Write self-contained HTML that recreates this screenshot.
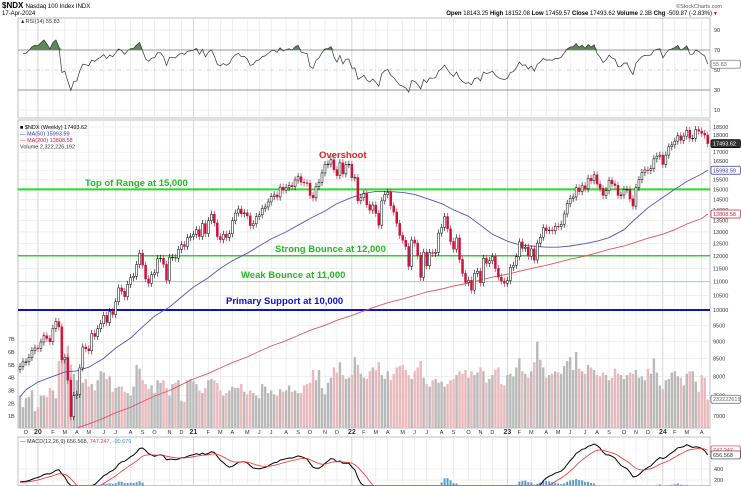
<!DOCTYPE html>
<html><head><meta charset="utf-8"><style>
html,body{margin:0;padding:0;background:#fff;width:741px;height:486px;overflow:hidden;}
svg{display:block;font-family:"Liberation Sans",sans-serif;overflow:hidden;}
</style></head><body>
<svg id="chart" width="741" height="486" viewBox="0 0 741 486" xmlns="http://www.w3.org/2000/svg">
<text x="2" y="8" font-size="8" font-weight="bold">$NDX <tspan font-size="6" font-weight="normal">Nasdaq 100 Index  INDX</tspan></text>
<text x="2" y="15" font-size="6">17-Apr-2024</text>
<text x="722" y="8" font-size="5.5" text-anchor="end" fill="#555">©StockCharts.com</text>
<text x="712" y="15" font-size="6" text-anchor="end"><tspan font-weight="bold">Open</tspan> 18143.25 <tspan font-weight="bold">High</tspan> 18152.08 <tspan font-weight="bold">Low</tspan> 17459.57 <tspan font-weight="bold">Close</tspan> 17493.62 <tspan font-weight="bold">Volume</tspan> 2.3B <tspan font-weight="bold">Chg</tspan> -509.87 (-2.83%)</text>
<text x="713" y="15" font-size="5" fill="#d00">▼</text>
<g id="g"></g>
</svg>
<script>
const closes=[8270,8400,8400,8530,8720,8800,
8790,8980,9170,9090,8990,9400,9620,9450,8460,8530,7900,6990,7500,7530,8230,8830,8780,8720,9240,9150,9390,9550,9820,9590,9950,9850,10280,10770,10650,10460,10900,11150,11200,11650,12100,11630,11100,10940,11260,11330,11880,11900,11660,11050,11940,11940,11900,12260,12460,12380,12750,12800,
12890,13100,12800,13370,12930,13500,13800,13400,12800,12670,12900,12760,12920,13500,13850,14040,13820,13860,13720,13280,13360,13690,13770,14070,14140,14380,14640,14720,14620,15110,14960,15100,15200,15140,15480,15650,15370,15330,15310,14700,14580,15150,15360,15850,16300,16330,16570,16030,15710,16400,15800,16300,16320,
15600,15610,14440,14590,14790,14250,13990,14230,13840,13300,14430,14740,14860,14200,13900,13380,12850,12640,12380,11580,12650,12520,12010,11160,12140,11600,12130,12100,12140,12950,13200,13690,13140,12590,12270,12740,11850,11310,10970,11050,10690,11310,11390,10960,11900,11700,11800,11970,11500,11170,11020,10940,
11040,11540,11620,11960,12570,12300,12350,11980,12280,11830,12520,12770,13180,13060,13080,13050,13250,13240,13340,13810,14300,14550,14620,15080,14890,15180,15030,15570,15440,15750,15270,15050,14700,14940,15460,15280,15200,14700,14720,14990,15000,14530,14180,15100,15500,15870,16010,15990,16080,16620,16770,16830,
16310,16830,17310,17420,17640,17960,17690,17940,18300,17810,17810,18340,18250,18110,18000,17494];
const volumes=[2.6,1.7,2.4,2.5,3.0,1.4,
1.7,2.6,2.6,2.5,3.2,3.0,2.4,5.3,6.0,5.5,6.5,5.0,4.3,3.8,4.0,3.6,3.9,3.3,3.5,3.0,3.8,4.5,4.4,3.9,4.1,2.9,3.2,3.3,3.3,2.9,2.8,2.6,3.3,5.0,4.7,3.8,3.5,3.1,3.4,2.8,3.8,3.6,3.8,3.2,2.6,3.5,3.6,3.8,2.2,2.1,3.8,3.9,
3.7,3.5,3.0,2.8,3.2,3.8,3.9,3.8,3.6,3.0,2.6,2.8,3.0,3.3,3.2,3.2,3.5,2.9,2.7,3.0,2.8,2.6,2.4,3.5,3.3,2.8,3.0,2.7,2.6,3.1,2.9,3.0,3.4,2.9,3.0,2.8,2.8,3.4,3.5,3.6,4.6,3.8,4.6,3.2,2.7,3.6,4.0,4.8,4.4,5.2,4.2,3.9,4.0,
4.2,5.6,5.0,4.3,4.0,3.9,4.5,4.8,4.6,5.2,4.2,3.9,4.5,3.8,4.3,4.8,4.9,5.0,4.6,4.2,3.9,4.5,4.8,5.3,4.0,3.5,3.3,3.8,3.9,3.6,3.7,3.3,3.5,3.8,3.9,4.2,4.5,4.3,4.6,4.0,4.5,4.2,4.4,4.8,4.5,3.6,3.9,4.2,4.6,4.8,3.5,3.4,
4.2,4.3,4.1,4.8,5.5,4.5,4.3,4.0,4.5,5.2,6.8,5.4,4.8,4.0,4.2,4.3,4.5,4.4,4.3,4.9,5.3,5.6,4.6,6.0,4.7,4.5,4.3,5.0,4.8,4.6,4.2,4.1,4.4,4.2,3.8,4.0,4.7,4.3,4.2,3.9,4.2,4.4,4.3,4.6,4.0,4.1,3.8,4.7,4.3,5.5,4.4,3.4,
3.1,3.8,3.9,4.4,4.5,4.1,4.0,3.4,4.3,4.5,4.5,3.7,2.9,4.2,4.0,2.3];
const ma50=[7470,7650,7850,8000,8120,8150,8250,8500,8800,9100,9450,9800,10100,10450,10800,11150,11500,11800,12100,12400,12700,13000,13300,13600,13950,14300,14600,14800,14900,14900,14850,14750,14550,14300,14000,13700,13300,12900,12600,12450,12400,12350,12350,12400,12500,12600,12750,13100,13600,14100,14600,15000,15400,15800,15994];
const ma200=[null,null,null,null,null,6700,6820,6950,7080,7210,7350,7490,7630,7780,7930,8080,8230,8380,8540,8700,8860,9020,9180,9340,9500,9660,9820,9970,10110,10250,10380,10500,10620,10730,10840,10950,11060,11170,11280,11390,11500,11620,11740,11860,11990,12120,12260,12400,12560,12730,12900,13100,13350,13600,13809];
const priceTicks=[18500,18000,17000,16500,16000,15500,15000,14500,14000,13500,13000,12500,12000,11500,11000,10500,10000,9500,9000,8500,8000,7500,7000];
const volTicks=[1,2,3,4,5,6,7];
const rsiTicks=[90,70,50,30,10];
const macdTicks=[400,200];
const levels=[15000,12000,11000,10000];
const levelLabels=["Top of Range at 15,000","Strong Bounce at 12,000","Weak Bounce at 11,000","Primary Support at 10,000"];

const NS="http://www.w3.org/2000/svg";
const G=document.getElementById('g');
function mk(tag,attrs,parent){const e=document.createElementNS(NS,tag);for(const k in attrs)e.setAttribute(k,attrs[k]);(parent||G).appendChild(e);return e;}
const X0=20,DX=2.99,PL=18,PR=710;
const xs=i=>X0+i*DX;
const yP=p=>310-(Math.log(p)-Math.log(10000))/0.6151*183;
const yV=v=>429-v*12.83;
const yR=r=>110-(r-10);
const yMraw=m=>491-m*0.055;
const yM=m=>Math.min(485.5,Math.max(437,yMraw(m)));
const N=closes.length;
const start=new Date(2019,10,22);
const dates=closes.map((c,i)=>new Date(start.getTime()+i*7*864e5));
const monthIdx=[0];
for(let i=1;i<N;i++){if(dates[i].getMonth()!==dates[i-1].getMonth())monthIdx.push(i);}
const mNames="JFMAMJJASOND";

const panels=[[18,118,'rsi-panel'],[120,428,'price-panel'],[437,485.5,'macd-panel']];
panels.forEach(p=>{const r=mk('rect',{x:PL,y:p[0],width:PR-PL,height:p[1]-p[0],fill:'#fff',stroke:'#999','stroke-width':0.6});

});
monthIdx.forEach((i,k)=>{if(i===0)return;
 panels.forEach(p=>{const l=mk('line',{x1:xs(i),x2:xs(i),y1:p[0],y2:p[1],stroke:dates[i].getMonth()===0?'#bbb':'#e3e3e3','stroke-width':0.6});
 
 });
 const isY=dates[i].getMonth()===0;
 const t=mk('text',{x:xs(i),y:434,'font-size':isY?7:5.5,'font-weight':isY?'bold':'normal','text-anchor':'middle',fill:'#333'});
 t.textContent=isY?String(dates[i].getFullYear()).slice(2):mNames[dates[i].getMonth()];
 
 
});
rsiTicks.forEach(v=>{const l=mk('line',{x1:PL,x2:PR,y1:yR(v),y2:yR(v),stroke:(v===30||v===70)?'#999':(v===50?'#aaa':'#e3e3e3'),'stroke-width':(v===30||v===70)?1:0.6,'stroke-dasharray':v===50?'4,2,1,2':'none'});
 
 
 const t=mk('text',{x:714,y:yR(v)+2,'font-size':5.5,fill:'#333'});t.textContent=v;
 
 });
priceTicks.forEach(v=>{const l=mk('line',{x1:PL,x2:PR,y1:yP(v),y2:yP(v),stroke:'#e6e6e6','stroke-width':0.6});
 
 
 const t=mk('text',{x:713,y:yP(v)+2,'font-size':5.5,fill:'#333'});t.textContent=v;
 
 });
volTicks.forEach(v=>{const t=mk('text',{x:8,y:yV(v)+2,'font-size':5.5,fill:'#333'});t.textContent=v+'B';
 
 });
macdTicks.forEach(v=>{const l=mk('line',{x1:PL,x2:PR,y1:yM(v),y2:yM(v),stroke:'#e6e6e6','stroke-width':0.6});
 
 
 const t=mk('text',{x:714,y:yM(v)+2,'font-size':5.5,fill:'#333'});t.textContent=v;
 
 });

closes.forEach((c,i)=>{const up=i===0||c>=closes[i-1];
 const r=mk('rect',{x:xs(i)-1.2,y:yV(volumes[i]),width:2.4,height:428-yV(volumes[i]),fill:up?'#b9b9b9':'#eab8bd'});
 
 });

const defs=mk('defs',{});
const cp=mk('clipPath',{id:'pc'},defs);mk('rect',{x:PL,y:120,width:PR-PL,height:308},cp);
const cm=mk('clipPath',{id:'mc'},defs);mk('rect',{x:PL,y:437,width:PR-PL,height:48.5},cm);
const PG=mk('g',{'clip-path':'url(#pc)'});

const lvlColors=['#22dd22','#33cc33','#88e888','#1010cc'],lvlW=[2,1.5,1,2];
levels.forEach((v,k)=>{const l=mk('line',{x1:PL,x2:PR,y1:yP(v),y2:yP(v),stroke:lvlColors[k],'stroke-width':lvlW[k]},PG);
 
 });
const lblPos=[[85,186],[275,252],[241,278],[226,304]];
levelLabels.forEach((s,k)=>{const t=mk('text',{x:lblPos[k][0],y:lblPos[k][1],'font-size':9.5,'font-weight':'bold',fill:k===3?'#1010cc':'#22bb22'});t.textContent=s;
 
 });
const ov=mk('text',{x:319,y:158,'font-size':9.5,'font-weight':'bold',fill:'#dd2222'});ov.textContent='Overshoot';



function maPath(arr){let d='';arr.forEach((v,k)=>{if(v==null)return;const i=k<monthIdx.length?monthIdx[k]:N-1;d+=(d?'L':'M')+xs(i).toFixed(1)+','+Math.min(428,yP(v)).toFixed(1);});return d;}
const m50=mk('path',{d:maPath(ma50),fill:'none',stroke:'#5555bb','stroke-width':0.9},PG);


const m200=mk('path',{d:maPath(ma200),fill:'none',stroke:'#dd5566','stroke-width':0.9},PG);



closes.forEach((c,i)=>{const o=i===0?c*0.99:closes[i-1];const hi=Math.max(o,c)*1.012,lo=Math.min(o,c)*0.988;
 const up=c>=o,x=xs(i);
 const w=mk('line',{x1:x,x2:x,y1:yP(hi),y2:Math.min(428,yP(lo)),stroke:up?'#000':'#d0103a','stroke-width':0.6},PG);
 
 
 const yt=yP(Math.max(o,c)),yb=yP(Math.min(o,c));
 const b=mk('rect',{x:x-1,y:yt,width:2,height:Math.max(0.6,yb-yt),fill:up?'#fff':'#d0103a',stroke:up?'#000':'#d0103a','stroke-width':0.5},PG);
 
 });

const leg=[['■ $NDX (Weekly) 17493.62','#000'],['— MA(50) 15993.59','#3333aa'],['— MA(200) 13808.58','#cc2244'],['Volume 2,322,226,192','#333']];
leg.forEach((l,k)=>{const t=mk('text',{x:20,y:129+k*6.5,'font-size':5.5,fill:l[1]});t.textContent=l[0];
 
 });

function box(y,txt,col,name){const r=mk('rect',{x:711,y:y-4,width:29.5,height:8,fill:col==='#000'?'#333':'#fff',stroke:col,'stroke-width':0.7,rx:1.5});
 
 
 const t=mk('text',{x:713,y:y+2,'font-size':5.5,fill:col==='#000'?'#fff':col});t.textContent=txt;
 
 }
box(yP(17493.62),'17493.62','#000','close-value-box');
box(yP(15993.59),'15993.59','#3333aa','ma50-value-box');
box(yP(13808.58),'13808.58','#cc2244','ma200-value-box');
box(yV(2.32),'2322226192','#666','volume-value-box');

const rsi=[];let ag=70,al=40;
for(let i=1;i<N;i++){const d=closes[i]-closes[i-1];const g=Math.max(d,0),l=Math.max(-d,0);
 ag=(ag*13+g)/14;al=(al*13+l)/14;
 rsi.push([i,100-100/(1+ag/al)]);}
let rd='',fd='';
rsi.forEach((p,k)=>{rd+=(k?'L':'M')+xs(p[0]).toFixed(1)+','+yR(p[1]).toFixed(1);fd+=(k?'L':'M')+xs(p[0]).toFixed(1)+','+yR(Math.max(70,p[1])).toFixed(1);});
fd+='L'+xs(rsi[rsi.length-1][0])+','+yR(70)+'L'+xs(rsi[0][0])+','+yR(70)+'Z';
const rf=mk('path',{d:fd,fill:'#5a8a5a',stroke:'none'});


const rl=mk('path',{d:rd,fill:'none',stroke:'#333','stroke-width':0.7});


const rt=mk('text',{x:20,y:23,'font-size':5.5,fill:'#333'});rt.textContent='▲RSI(14) 55.83';


box(yR(55.83),'55.83','#666','rsi-value-box');

function ema(a,n,seed){const k=2/(n+1);const o=[seed];for(let i=1;i<a.length;i++)o.push(a[i]*k+o[i-1]*(1-k));return o;}
const e12=ema(closes,12,closes[0]*0.985),e26=ema(closes,26,closes[0]*0.965);
const macd=e12.map((v,i)=>v-e26[i]);
const sig=ema(macd,9,macd[0]*0.95);
const MG=mk('g',{'clip-path':'url(#mc)'});
macd.forEach((v,i)=>{const h=v-sig[i];const y0=yM(0),y1=yM(h);
 if(Math.abs(y1-y0)<0.01)return;
 const r=mk('rect',{x:xs(i)-1,y:Math.min(y0,y1),width:2,height:Math.abs(y1-y0),fill:'#5b9bc8'},MG);
 
 });
const lp=a=>a.map((v,i)=>(i?'L':'M')+xs(i).toFixed(1)+','+yM(v).toFixed(1)).join('');
const ml=mk('path',{d:lp(macd),fill:'none',stroke:'#000','stroke-width':1},MG);


const sl=mk('path',{d:lp(sig),fill:'none',stroke:'#f03030','stroke-width':0.8},MG);


const mt=mk('text',{x:20,y:443,'font-size':5.5,fill:'#333'});
mt.innerHTML='— MACD(12,26,9) 656.568, <tspan fill="#e33">747.247</tspan>, <tspan fill="#39c">-90.679</tspan>';


box(yM(747),'747.247','#e33','macd-signal-value-box');
box(yM(656),'656.568','#333','macd-value-box');
</script>
</body></html>
